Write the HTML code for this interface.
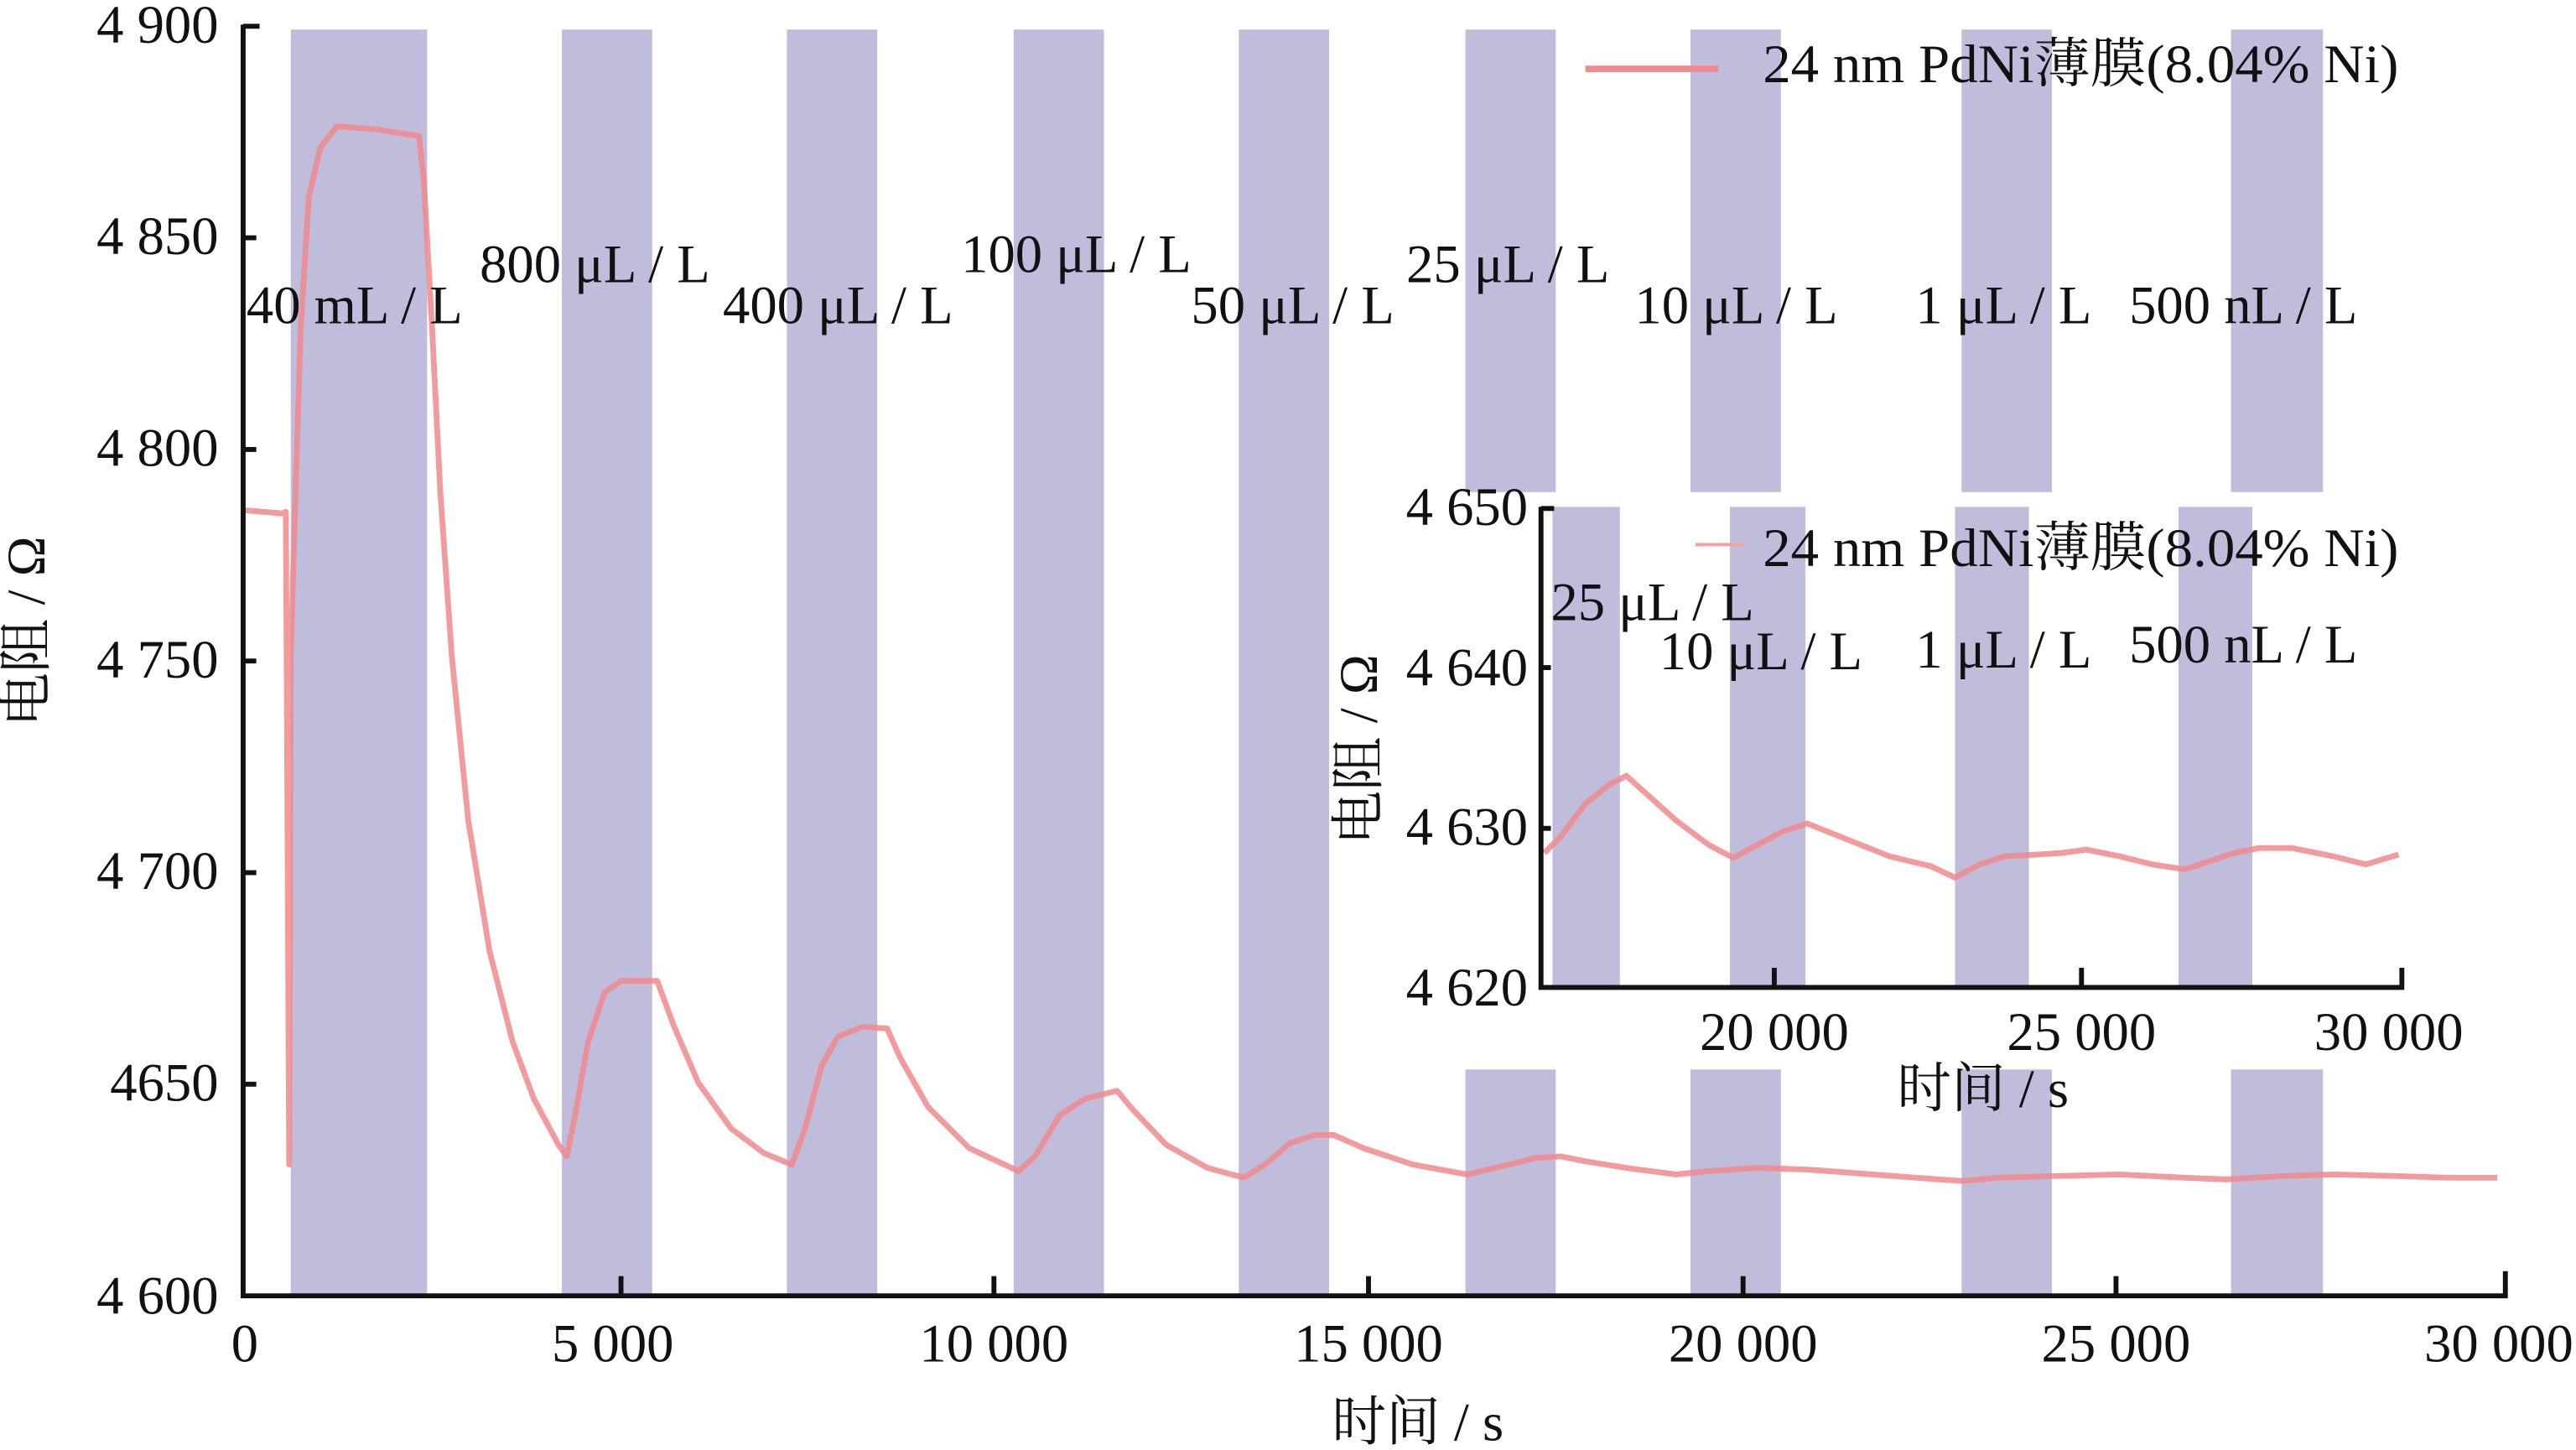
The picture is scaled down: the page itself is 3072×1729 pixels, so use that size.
<!DOCTYPE html>
<html><head><meta charset="utf-8"><style>html,body{margin:0;padding:0;background:#fff}svg{display:block}</style></head>
<body>
<svg width="3072" height="1729" viewBox="0 0 1568 884" preserveAspectRatio="none" xmlns="http://www.w3.org/2000/svg" font-family="'Liberation Serif','Noto Serif CJK SC',serif" fill="#111">
<g fill="#c0bcdc">
<rect x="177" y="18" width="83" height="772"/>
<rect x="342" y="18" width="55" height="772"/>
<rect x="479" y="18" width="55" height="772"/>
<rect x="617" y="18" width="55" height="772"/>
<rect x="754" y="18" width="55" height="772"/>
<rect x="892" y="18" width="55" height="282"/><rect x="892" y="652" width="55" height="138"/>
<rect x="1029" y="18" width="55" height="282"/><rect x="1029" y="652" width="55" height="138"/>
<rect x="1194" y="18" width="55" height="282"/><rect x="1194" y="652" width="55" height="138"/>
<rect x="1358" y="18" width="56" height="282"/><rect x="1358" y="652" width="56" height="138"/>
</g>
<polyline fill="none" stroke="#f08a8c" stroke-opacity="0.85" stroke-width="3.5" stroke-linejoin="round" points="148,311 172,313 174,312 175,505 176,710 177,400 179,330 183,200 188,120 195,90 205,77 230,79 255,83 258,110 263,200 268,300 275,400 285,500 298,580 312,635 325,670 340,698 345,705 350,680 358,635 368,605 378,598 400,598 410,625 425,660 445,688 465,703 482,710 490,688 500,650 510,632 525,626 540,627 548,645 565,675 590,700 620,714 630,705 645,680 660,670 680,665 690,677 710,698 735,712 757,718 770,710 785,697 800,692 812,692 830,700 860,710 893,716 910,712 935,706 950,705 965,708 990,712 1020,716 1040,714 1070,712 1100,713 1140,716 1180,719 1195,720 1215,718 1250,717 1290,716 1330,718 1355,719 1390,717 1420,716 1460,717 1490,718 1520,718"/>
<g stroke="#111" stroke-width="3" fill="none">
<polyline points="148,15 148,790 1525,790 1525,775"/>
<line x1="148" y1="16" x2="158" y2="16"/><line x1="148" y1="145" x2="156" y2="145"/><line x1="148" y1="274" x2="156" y2="274"/><line x1="148" y1="403" x2="156" y2="403"/><line x1="148" y1="532" x2="156" y2="532"/><line x1="148" y1="661" x2="156" y2="661"/>
<line x1="378" y1="790" x2="378" y2="778"/><line x1="605" y1="790" x2="605" y2="778"/><line x1="833" y1="790" x2="833" y2="778"/><line x1="1061" y1="790" x2="1061" y2="778"/><line x1="1288" y1="790" x2="1288" y2="778"/>
</g>
<g font-size="33" text-anchor="end">
<text x="133" y="26">4 900</text><text x="133" y="155">4 850</text><text x="133" y="284">4 800</text><text x="133" y="413">4 750</text><text x="133" y="542">4 700</text><text x="133" y="671">4650</text><text x="133" y="801">4 600</text>
</g>
<g font-size="33" text-anchor="middle">
<text x="149" y="830">0</text><text x="373" y="830">5 000</text><text x="605" y="830">10 000</text><text x="833" y="830">15 000</text><text x="1061" y="830">20 000</text><text x="1288" y="830">25 000</text><text x="1521" y="830">30 000</text>
<text x="863" y="878">时间 / s</text>
</g>
<text font-size="33" text-anchor="middle" transform="translate(27,385) rotate(-90)">电阻 / Ω</text>
<g font-size="33">
<text x="150" y="197">40 mL / L</text>
<text x="292" y="172">800 μL / L</text>
<text x="440" y="197">400 μL / L</text>
<text x="585" y="166">100 μL / L</text>
<text x="725" y="197">50 μL / L</text>
<text x="856" y="172">25 μL / L</text>
<text x="995" y="197">10 μL / L</text>
<text x="1166" y="197">1 μL / L</text>
<text x="1296" y="197">500 nL / L</text>
<text x="1073" y="50" textLength="387" lengthAdjust="spacingAndGlyphs">24 nm PdNi薄膜(8.04% Ni)</text>
</g>
<line x1="965" y1="42" x2="1046" y2="42" stroke="#f08a8c" stroke-width="4"/>
<rect x="938" y="302" width="530" height="300" fill="#fff"/>
<g fill="#c0bcdc">
<rect x="945" y="309" width="41" height="293"/><rect x="1053" y="309" width="46" height="293"/><rect x="1190" y="309" width="45" height="293"/><rect x="1326" y="309" width="45" height="293"/>
</g>
<polyline fill="none" stroke="#f08a8c" stroke-opacity="0.85" stroke-width="3.5" points="940,520 950,510 965,490 980,478 990,473 1000,482 1020,500 1040,515 1055,523 1070,515 1085,507 1100,502 1120,510 1150,522 1175,528 1190,535 1205,527 1220,522 1240,521 1255,520 1270,518 1290,522 1310,527 1330,530 1345,525 1360,520 1375,517 1395,517 1420,522 1440,527 1460,521"/>
<line x1="1032" y1="332" x2="1062" y2="332" stroke="#f5a0a2" stroke-width="2"/>
<g stroke="#111" stroke-width="3" fill="none">
<polyline points="938,309 938,602 1462,602 1462,590"/>
<line x1="938" y1="310" x2="946" y2="310"/><line x1="938" y1="407" x2="944" y2="407"/><line x1="938" y1="505" x2="944" y2="505"/>
<line x1="1080" y1="602" x2="1080" y2="590"/><line x1="1267" y1="602" x2="1267" y2="590"/>
</g>
<g font-size="33" text-anchor="end">
<text x="930" y="320">4 650</text><text x="930" y="418">4 640</text><text x="930" y="515">4 630</text><text x="930" y="613">4 620</text>
</g>
<g font-size="33" text-anchor="middle">
<text x="1080" y="640">20 000</text><text x="1267" y="640">25 000</text><text x="1454" y="640">30 000</text>
<text x="1207" y="675">时间 / s</text>
</g>
<text font-size="33" text-anchor="middle" transform="translate(838,457) rotate(-90)">电阻 / Ω</text>
<g font-size="33">
<text x="1073" y="345" textLength="387" lengthAdjust="spacingAndGlyphs">24 nm PdNi薄膜(8.04% Ni)</text>
<text x="944" y="378">25 μL / L</text>
<text x="1010" y="408">10 μL / L</text>
<text x="1166" y="407">1 μL / L</text>
<text x="1296" y="404">500 nL / L</text>
</g>
</svg>
</body></html>
